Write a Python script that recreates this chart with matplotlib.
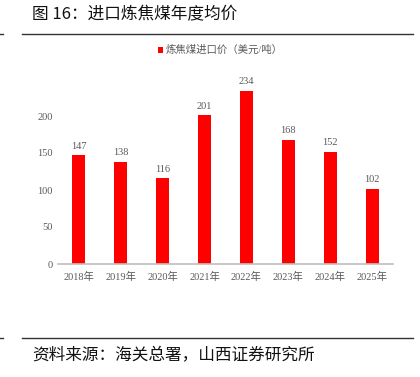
import matplotlib
matplotlib.use('Agg')
import matplotlib.pyplot as plt
import numpy as np

plt.rcParams['font.family'] = ['Liberation Serif', 'Noto Sans CJK SC', 'DejaVu Sans']

years = ['2018年', '2019年', '2020年', '2021年', '2022年', '2023年', '2024年', '2025年']
prices = [147, 138, 116, 201, 234, 168, 152, 102]
y_ticks = [0, 50, 100, 150, 200]

W, H = 420, 377
fig = plt.figure(figsize=(W / 100, H / 100), dpi=100)

# axes box in pixel coordinates
left, right = 58, 393
bottom, top = 264, 79
ax = fig.add_axes([left / W, 1 - bottom / H, (right - left) / W, (bottom - top) / H])

x = np.arange(len(years))
bars = ax.bar(x, prices, width=0.31, color='#ff0000', label='炼焦煤进口价（美元/吨）')
for xi, v in zip(x, prices):
    ax.text(xi, v + 6, str(v), ha='center', va='bottom', fontsize=7.5, color='#595959')

ax.set_xlim(-0.5, len(years) - 0.5)
ax.set_ylim(0, 250)
ax.set_yticks(y_ticks)
ax.set_xticks(x)
ax.set_xticklabels(years)
ax.tick_params(axis='both', length=0, labelsize=7.5, colors='#595959')
ax.tick_params(axis='x', pad=6)
ax.tick_params(axis='y', pad=4)
for s in ['top', 'right', 'left']:
    ax.spines[s].set_visible(False)
ax.spines['bottom'].set_color('#bfbfbf')
ax.spines['bottom'].set_linewidth(1.2)

leg = ax.legend(loc='upper left', bbox_to_anchor=((158 - left) / (right - left), 1 + (top - 45) / (bottom - top)),
                frameon=False, fontsize=7.5, handlelength=0.5, handleheight=0.5,
                handletextpad=0.2, borderaxespad=0, borderpad=0)
for t in leg.get_texts():
    t.set_color('#595959')

# title and rules
fig.text(32 / W, 1 - 15 / H, '图 16：进口炼焦煤年度均价', fontsize=12, va='center', ha='left',
         family=['Noto Sans CJK SC', 'DejaVu Sans'], color='#111111')
for yy in [34, 338]:
    fig.add_artist(plt.Line2D([22 / W, 413 / W], [1 - yy / H, 1 - yy / H], color='#333333', lw=1))
    fig.add_artist(plt.Line2D([0, 3 / W], [1 - yy / H, 1 - yy / H], color='#333333', lw=1))
fig.text(32 / W, 1 - 356 / H, '资料来源：海关总署，山西证券研究所', fontsize=12, va='center', ha='left',
         family=['Noto Sans CJK SC', 'DejaVu Sans'], color='#111111')

fig.savefig('out.png', dpi=100)
